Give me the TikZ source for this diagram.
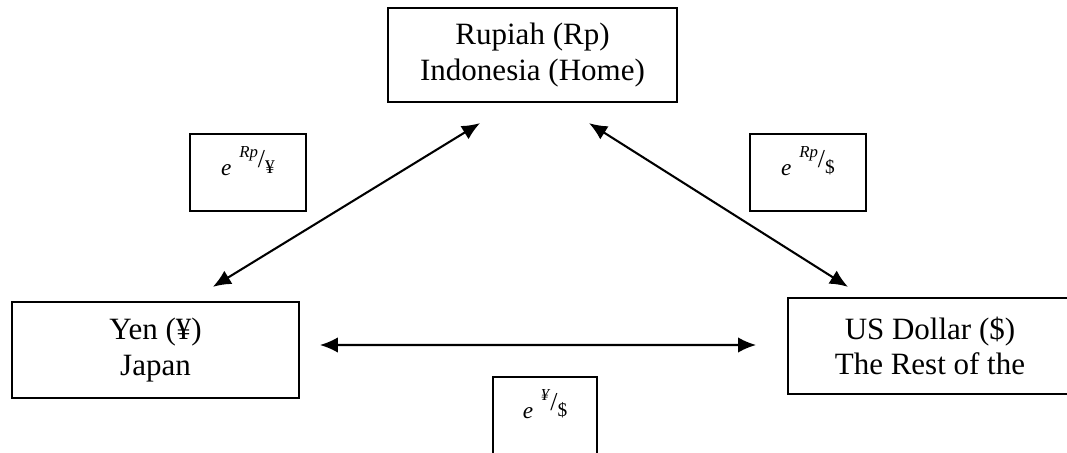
\documentclass[tikz,border=0pt]{standalone}
\usepackage{fontspec}
\setmainfont{Liberation Serif}
\usetikzlibrary{arrows.meta}

\newcommand{\xrate}[2]{%
  \fontsize{9}{10}\selectfont\textit{e}\hspace{3pt}%
  \raisebox{7pt}{\fontsize{6.5}{7}\selectfont\textit{#1}}%
  \raisebox{3.2pt}{\fontsize{10}{11}\selectfont/}%
  \raisebox{0.8pt}{\fontsize{7.5}{8}\selectfont #2}}

\begin{document}
\begin{tikzpicture}[every node/.style={font=\fontsize{12}{13.8}\selectfont},
    box/.style={draw, line width=0.8pt, align=center, inner sep=2pt},
    ratebox/.style={draw, line width=0.8pt, inner sep=0pt, text height=16pt, text depth=13.8pt},
    arr/.style={{Latex[length=7pt,width=6pt]}-{Latex[length=7pt,width=6pt]}, line width=0.8pt}]
      \clip (0,0) rectangle (14.517,6.150);
      \node[box, minimum width=3.93cm, minimum height=1.28cm] (rp)  at (7.245,5.401)  {Rupiah (Rp)\\Indonesia (Home)};
      \node[box, minimum width=3.90cm, minimum height=1.31cm] (yen) at (2.116,1.388)  {Yen (¥)\\Japan};
      \node[box, minimum width=3.86cm, minimum height=1.31cm] (usd) at (12.653,1.442) {US Dollar (\$)\\The Rest of the};
      \node[ratebox, minimum width=1.58cm]  (eRpYen) at (3.374,3.803)  {\xrate{Rp}{¥}};
      \node[ratebox, minimum width=1.58cm]  (eRpUsd) at (10.993,3.803) {\xrate{Rp}{\$}};
      \node[ratebox, minimum width=1.415cm] (eYenUsd) at (7.415,0.497) {\xrate{¥}{\$}};
      \draw[arr] ([xshift=0.78cm,yshift=0.19cm]yen.north) -- ([xshift=-0.714cm,yshift=-0.272cm]rp.south);
      \draw[arr] ([xshift=0.769cm,yshift=-0.272cm]rp.south) -- ([xshift=-1.116cm,yshift=0.136cm]usd.north);
      \draw[arr] ([xshift=0.272cm,yshift=0.068cm]yen.east) -- ([xshift=-0.422cm,yshift=0.014cm]usd.west);
    \end{tikzpicture}
\end{document}
